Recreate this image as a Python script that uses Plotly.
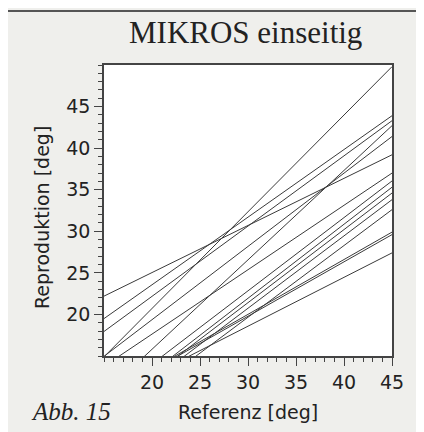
import plotly.graph_objects as go

# Reproduktion values (deg) of each regression line at Referenz = 15 and 45
ref_span = [15, 45]
rep_at_15 = [14.9, 22.2, 19.5, 17.95, 14.96, 10.43, 13.76, 9.63, 8.59, 8.23, 7.69, 6.72, 10.12, 9.96, 9.77]
rep_at_45 = [49.8, 39.2, 43.9, 43.3, 41.4, 42.7, 37.0, 36.05, 35.3, 34.6, 33.8, 32.6, 29.9, 29.6, 27.4]

x_ticks = [20, 25, 30, 35, 40, 45]
y_ticks = [20, 25, 30, 35, 40, 45]

# page body adds an 8px offset; layout is specified in reference pixels minus that offset
OFF = 8
PL, PR, PT, PB = 104 - OFF, 392 - OFF, 65 - OFF, 356 - OFF
W, H = 424, 432
PW, PH = PR - PL, PB - PT


def px(xpix):
    return (xpix - OFF - PL) / PW


def py(ypix):
    return (PB - (ypix - OFF)) / PH


fig = go.Figure()
for a, b in zip(rep_at_15, rep_at_45):
    fig.add_trace(go.Scatter(x=ref_span, y=[a, b], mode="lines",
                             line=dict(color="#3a3a3a", width=1), showlegend=False,
                             hoverinfo="skip"))

axis_font = dict(family="DejaVu Sans", size=19, color="#222")
common = dict(showline=True, linecolor="#444", linewidth=1.5, mirror=True,
              ticks="outside", ticklen=8, tickwidth=1, tickcolor="#444",
              showgrid=False, zeroline=False, tickfont=axis_font,
              minor=dict(ticks="outside", ticklen=4, dtick=1, tickcolor="#444", tickwidth=1))

fig.update_xaxes(range=[15, 45], tickvals=x_ticks, **common)
fig.update_yaxes(range=[15, 50], tickvals=y_ticks, **common)

fig.update_layout(
    width=W, height=H,
    margin=dict(l=PL, r=W - PR, t=PT, b=H - PB),
    paper_bgcolor="#efefec", plot_bgcolor="white",
    annotations=[
        dict(text="MIKROS einseitig", xref="paper", yref="paper", x=px(245), y=py(33),
             showarrow=False, xanchor="center", yanchor="middle",
             font=dict(family="Liberation Serif", size=31, color="#222")),
        dict(text="Referenz [deg]", xref="paper", yref="paper", x=px(248), y=py(412),
             showarrow=False, xanchor="center", yanchor="middle", font=axis_font),
        dict(text="Reproduktion [deg]", xref="paper", yref="paper", x=px(42),
             y=py(218), textangle=-90,
             showarrow=False, xanchor="center", yanchor="middle", font=axis_font),
        dict(text="<i>Abb. 15</i>", xref="paper", yref="paper", x=px(29),
             y=py(411), showarrow=False, xanchor="left", yanchor="middle",
             font=dict(family="Liberation Serif", size=25, color="#222")),
    ],
    shapes=[
        dict(type="line", xref="paper", yref="paper", x0=px(6), x1=px(6),
             y0=py(11), y1=py(440), line=dict(color="#555", width=2)),
        dict(type="line", xref="paper", yref="paper", x0=px(6), x1=px(440),
             y0=py(11), y1=py(11), line=dict(color="#555", width=2)),
    ],
)

fig.write_html("out.html")
